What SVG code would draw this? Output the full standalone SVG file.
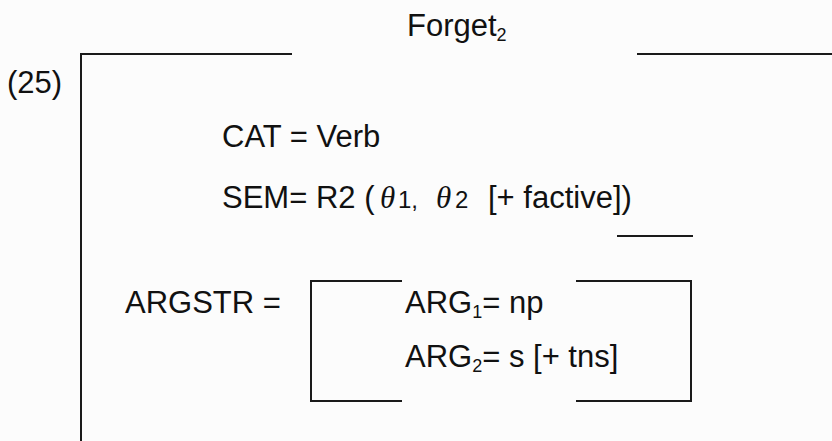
<svg xmlns="http://www.w3.org/2000/svg" width="832" height="441" viewBox="0 0 832 441">
<style>
.t{font-family:"Liberation Sans",Arial,sans-serif;font-size:31px;fill:#111}
.s{font-size:18px}
.m{font-size:24px}
.th{font-family:"Liberation Serif","Times New Roman",serif;font-style:italic;font-size:31px;fill:#111}
.ln{stroke:#1a1a1a;stroke-width:2;fill:none}
</style>
<rect width="832" height="441" fill="#fcfcfc"/>
<g id="title">
<text class="t" x="407" y="36">Forget<tspan class="s" dy="5">2</tspan></text>
</g>
<g id="label">
<text class="t" x="7" y="93">(25)</text>
</g>
<g id="outer-bracket">
<path class="ln" d="M81 441 V54 H292"/>
<path class="ln" d="M637 54 H832"/>
</g>
<g id="cat">
<text class="t" x="222" y="147">CAT = Verb</text>
</g>
<g id="sem">
<text class="t" x="222" y="208">SEM= R2 (</text>
<text class="th" x="380" y="208">θ</text>
<text class="t m" x="398" y="208">1,</text>
<text class="th" x="436" y="208">θ</text>
<text class="t m" x="455" y="208">2</text>
<text class="t" x="488" y="208">[+ factive])</text>
<path class="ln" d="M617 236 H693"/>
</g>
<g id="argstr">
<text class="t" x="125" y="313">ARGSTR =</text>
</g>
<g id="arg-bracket">
<path class="ln" d="M402 281 H311 V401 H402"/>
<path class="ln" d="M576 281 H691 V401 H576"/>
<text class="t" x="405" y="313">ARG<tspan class="s" dy="5">1</tspan><tspan dy="-5">= np</tspan></text>
<text class="t" x="405" y="367">ARG<tspan class="s" dy="5">2</tspan><tspan dy="-5">= s [+ tns]</tspan></text>
</g>
</svg>
